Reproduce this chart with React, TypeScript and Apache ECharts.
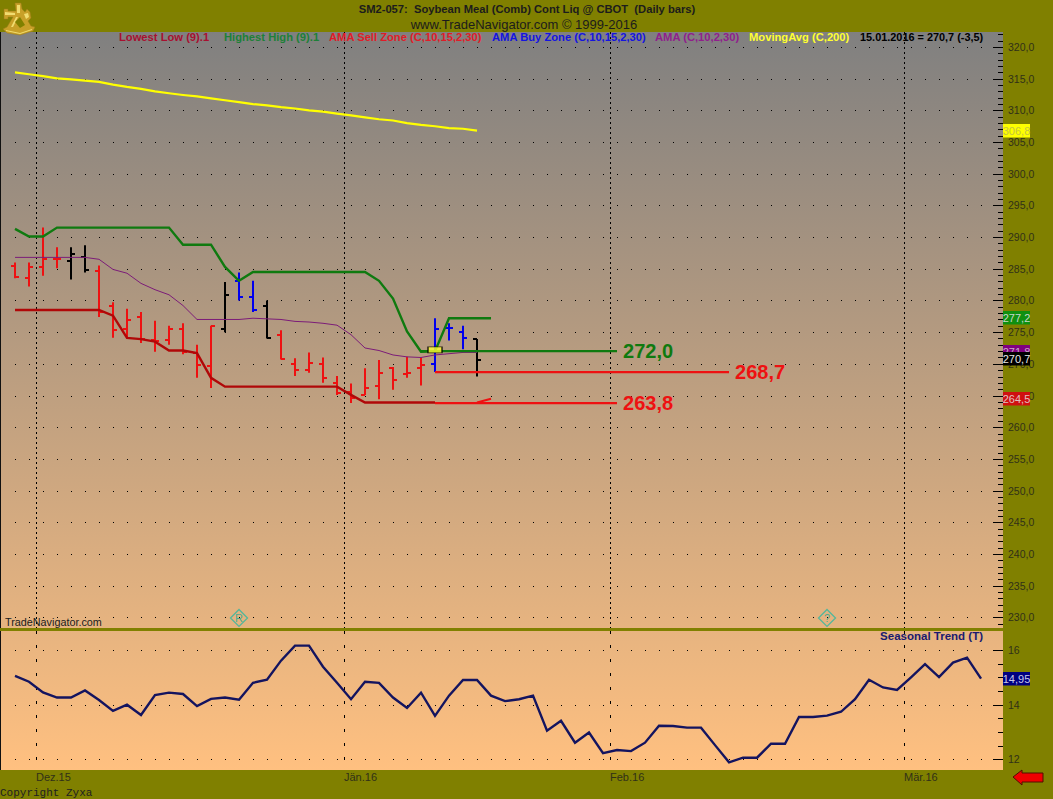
import React, { useEffect, useRef } from "react";
import * as echarts from "echarts";

// ---- data (x = bar number, 0 = first bar) ----
const dateLabels = ["Dez.15", "Jän.16", "Feb.16", "Mär.16"];
const dateBars = [1.5, 23.5, 42.5, 63.5];

const opens = [285.4, 283.6, 285.3, 286.6, 286.3, 286.9, 284.7, 279.1, 275.5, 277.4, 273.8, 273.8, 275.5, 271.7, 269.6, 275.5, 283.1, 280.5, 279.2, 274.6, 270.0, 269.0, 269.9, 267.0, 265.6, 265.1, 266.5, 269.3, 268.4, 269.3, 269.9, 275.6, 275.1, 273.9];
const highs = [286.0, 286.0, 291.5, 288.4, 288.4, 288.7, 285.5, 279.7, 278.7, 278.2, 276.8, 276.0, 276.4, 273.0, 276.0, 282.9, 284.4, 283.1, 280.0, 275.3, 270.9, 271.8, 271.0, 268.1, 266.9, 269.3, 270.6, 269.5, 271.1, 271.0, 277.2, 276.4, 276.0, 273.9];
const lows = [283.5, 282.2, 283.9, 285.1, 283.3, 284.4, 277.4, 274.1, 274.0, 273.3, 271.9, 273.0, 271.5, 267.8, 266.2, 275.0, 280.0, 278.2, 274.0, 270.7, 268.1, 268.6, 267.0, 265.1, 263.8, 265.1, 264.4, 265.9, 267.8, 266.6, 268.7, 273.7, 272.3, 268.0];
const closes = [283.7, 285.3, 286.5, 286.6, 287.4, 284.8, 278.2, 275.4, 276.9, 273.9, 273.6, 275.5, 271.8, 269.8, 275.9, 280.9, 280.6, 278.5, 274.1, 270.8, 269.0, 270.1, 267.7, 265.4, 264.6, 266.2, 268.6, 267.5, 268.6, 269.8, 275.5, 275.6, 274.1, 270.6];
const barKinds = "rrrrkkrrrrrrrrrkbbkrrrrrrrrrrrbbbk".split("").map((c, i) => (i === 30 ? "b" : c));

const lowestLow = [278.5, 278.5, 278.5, 278.5, 278.5, 278.5, 278.5, 277.6, 274.1, 273.9, 273.5, 272.1, 272.1, 271.7, 267.8, 266.4, 266.4, 266.4, 266.4, 266.4, 266.4, 266.4, 266.4, 266.4, 265.1, 263.9, 263.9, 263.9, 263.9, 263.9, 263.9];
const highestHigh = [291.3, 290.1, 290.1, 291.5, 291.5, 291.5, 291.5, 291.5, 291.5, 291.5, 291.5, 291.5, 288.8, 288.8, 288.8, 285.3, 283.1, 284.5, 284.5, 284.5, 284.5, 284.5, 284.5, 284.5, 284.5, 284.5, 283.1, 280.3, 275.1, 271.9, 272.0, 277.2, 277.2, 277.2, 277.2];
const amaPurple = [286.8, 286.8, 286.8, 286.8, 286.8, 286.8, 286.5, 284.9, 284.3, 282.7, 281.7, 280.9, 279.2, 277.0, 277.0, 277.0, 277.0, 277.2, 277.1, 277.0, 276.7, 276.6, 276.4, 276.1, 274.6, 272.5, 272.1, 271.4, 271.1, 271.0, 271.4, 271.6, 271.8, 271.8];
const movingAvg = [316.0, 315.7, 315.4, 315.06, 314.9, 314.7, 314.5, 314.06, 313.7, 313.4, 313.0, 312.7, 312.43, 312.2, 311.9, 311.6, 311.3, 311.0, 310.8, 310.5, 310.3, 310.0, 309.8, 309.5, 309.2, 308.9, 308.6, 308.4, 308.0, 307.7, 307.5, 307.2, 307.1, 306.8];
const sellZoneBars = [33, 34];
const sellZoneValues = [263.9, 264.5];

const levelValues = [272.0, 268.7, 263.8];
const levelStartBars = [29, 30, 30];
const levelEndBars = [43, 51, 43];
const levelColors = ["#0f7a0f", "#ee1111", "#ee1111"];

const seasonal = [15.05, 14.84, 14.45, 14.26, 14.26, 14.52, 14.17, 13.77, 14.0, 13.62, 14.35, 14.44, 14.39, 13.95, 14.21, 14.26, 14.18, 14.8, 14.91, 15.61, 16.16, 16.16, 15.39, 14.8, 14.2, 14.84, 14.8, 14.26, 13.88, 14.44, 13.59, 14.33, 14.9, 14.9, 14.33, 14.13, 14.2, 14.33, 13.05, 13.41, 12.61, 12.98, 12.23, 12.34, 12.3, 12.61, 13.23, 13.22, 13.16, 13.16, 12.52, 11.89, 12.06, 12.06, 12.57, 12.57, 13.55, 13.55, 13.6, 13.74, 14.2, 14.91, 14.63, 14.54, 15.0, 15.48, 15.01, 15.54, 15.72, 14.95];

const priceTicks = [230, 235, 240, 245, 250, 255, 260, 265, 270, 275, 280, 285, 290, 295, 300, 305, 310, 315, 320];
const seasonalTicks = [12, 14, 16];

const tagValues = [306.8, 277.2, 271.8, 270.7, 264.5];
const tagFills = ["#ffff00", "#109010", "#800080", "#000000", "#d01010"];
const tagInks = ["#c4c440", "#c8d8c8", "#c8a8c8", "#e8e8e8", "#e0c0c0"];
const seasonalTagValue = [14.95];

const markerBars = [16, 58];
const markerTexts = ["R", "?"];
const markerLevel = 229.9;

const legendTexts = ["Lowest Low (9).1", "Highest High (9).1", "AMA Sell Zone (C,10,15,2,30)", "AMA Buy Zone (C,10,15,2,30)", "AMA (C,10,2,30)", "MovingAvg (C,200)", "15.01.2016 = 270,7 (-3,5)"];
const legendX = [119, 224, 329, 492, 655, 749, 860];
const legendColors = ["#a81030", "#1d8038", "#e01c28", "#1414e0", "#90208c", "#ffff30", "#000000"];
const legendSizes = [11.2, 11.2, 11.2, 11.2, 11.2, 11.2, 10.9];

// ---- layout ----
const FONT = '"Liberation Sans", Arial, sans-serif';
const barColor: Record<string, string> = { r: "#ee1111", k: "#000000", b: "#0000ee" };
const xMin = -1;
const xMax = 70.57;
const dotBarCount = 70;

echarts.graphic.registerShape(
  "logoBody",
  echarts.graphic.extendPath(
    "M15 3 L21 3 L22 9 L25 12 L27 9 L30 12 L31 18 L28 21 L31 26 L35 27 L33 31 L20 35 L7 33 L3 29 L7 27 L13 17 L8 17 L8 19 L4 19 L4 9 L8 9 L8 11 L16 11 Z",
    {}
  )
);
echarts.graphic.registerShape(
  "logoLight",
  echarts.graphic.extendPath(
    "M17 5 L20 5 L20 13 L17 13 Z M5 12 L15 13 L15 15 L5 15 Z M24 14 L28 13 L29 17 L26 19 Z M6 30 L20 33 L32 29 L32 30 L20 34 L6 31 Z M16 17 L18 17 L13 27 L11 27 Z",
    {}
  )
);
echarts.graphic.registerShape(
  "logoDark",
  echarts.graphic.extendPath("M15 22 L20 17 L25 25 L20 28 Z", {})
);

function line(name: string, values: number[], color: string, width: number, start = 0) {
  return {
    name,
    type: "line",
    xAxisIndex: 0,
    yAxisIndex: 0,
    data: values.map((v, i) => [start + i, v]),
    showSymbol: false,
    symbol: "none",
    lineStyle: { color, width, cap: "butt", join: "miter" },
    z: 3,
  };
}

function fmt(v: number, digits: number) {
  return v.toFixed(digits).replace(".", ",");
}

function dotSeries(name: string, xIdx: number, yIdx: number, rows: number[]) {
  const data: number[][] = [];
  rows.forEach((r) => {
    for (let b = 0; b < dotBarCount; b++) data.push([b, r]);
  });
  return {
    name,
    type: "custom",
    xAxisIndex: xIdx,
    yAxisIndex: yIdx,
    silent: true,
    z: 1,
    encode: { x: 0, y: 1 },
    data,
    renderItem: (_: any, api: any) => {
      const p = api.coord([api.value(0), api.value(1)]);
      return { type: "rect", shape: { x: Math.round(p[0]), y: Math.round(p[1]), width: 1, height: 1 }, style: { fill: "#000000" } };
    },
  };
}

// ticks of the right-hand scale, placed by the y axis
function tickSeries(name: string, xIdx: number, yIdx: number, values: number[], length: number) {
  return {
    name,
    type: "custom",
    xAxisIndex: xIdx,
    yAxisIndex: yIdx,
    silent: true,
    clip: false,
    z: 1,
    encode: { x: 0, y: 1 },
    data: values.map((v) => [xMax, v]),
    renderItem: (_: any, api: any) => {
      const y = Math.round(api.coord([xMax, api.value(1)])[1]);
      return { type: "rect", shape: { x: 1003 - length, y, width: length, height: 1 }, style: { fill: "#000000" } };
    },
  };
}

function tagSeries(name: string, xIdx: number, yIdx: number, values: number[], fills: string[], inks: string[], digits: number) {
  return {
    name,
    type: "custom",
    xAxisIndex: xIdx,
    yAxisIndex: yIdx,
    clip: false,
    z: 8,
    silent: true,
    encode: { x: 0, y: 1 },
    data: values.map((v, i) => [0, v, i]),
    renderItem: (_: any, api: any) => {
      const y = Math.round(api.coord([0, api.value(1)])[1]);
      const i = api.value(2);
      return {
        type: "group",
        children: [
          { type: "rect", shape: { x: 1003, y: y - 7, width: 27, height: 13.5 }, style: { fill: fills[i] } },
          {
            type: "text",
            style: { x: 1016.5, y: y, text: fmt(api.value(1), digits), fill: inks[i], font: `11px ${FONT}`, textAlign: "center", textVerticalAlign: "middle" },
          },
        ],
      };
    },
  };
}

function txt(text: string, x: number, y: number, font: string, fill: string, textAlign = "left") {
  return { type: "text", z: 6, silent: true, style: { text, x, y, font, fill, textAlign, textVerticalAlign: "middle" } };
}

function buildOption() {
  const minorPrice = Array.from({ length: 94 }, (_, i) => 229 + i);
  const minorSeasonal = Array.from({ length: 9 }, (_, i) => 12 + i / 2);
  const xCommon = { type: "value", min: xMin, max: xMax, axisLine: { show: false } };

  return {
    animation: false,
    backgroundColor: "#808000",
    grid: [
      { left: 1, top: 32, width: 1002, height: 596, containLabel: false },
      { left: 1, top: 631, width: 1002, height: 139, containLabel: false },
    ],
    xAxis: [
      {
        ...xCommon,
        gridIndex: 0,
        axisLabel: { show: false },
        axisTick: { show: false, customValues: dateBars },
        splitLine: { show: true, lineStyle: { color: "#000000", width: 1, type: [2, 3] } },
      },
      {
        ...xCommon,
        gridIndex: 1,
        axisTick: { show: false, customValues: dateBars },
        axisLabel: {
          show: true,
          customValues: dateBars,
          formatter: (v: number) => dateLabels[dateBars.indexOf(v)] ?? "",
          align: "left",
          margin: 1,
          color: "#303018",
          fontFamily: FONT,
          fontSize: 11,
        },
        splitLine: { show: true, lineStyle: { color: "#000000", width: 1, type: [3, 11] } },
      },
    ],
    yAxis: [
      {
        type: "value",
        gridIndex: 0,
        position: "right",
        min: 228.31,
        max: 322.37,
        axisLine: { show: false },
        axisTick: { show: false },
        axisLabel: { show: true, customValues: priceTicks, margin: 5, color: "#303018", fontFamily: FONT, fontSize: 10.5, formatter: (v: number) => fmt(v, 1) },
        splitLine: { show: false },
      },
      {
        type: "value",
        gridIndex: 1,
        position: "right",
        min: 11.61,
        max: 16.695,
        axisLine: { show: false },
        axisTick: { show: false },
        axisLabel: { show: true, customValues: seasonalTicks, margin: 5, color: "#303018", fontFamily: FONT, fontSize: 10.5, formatter: (v: number) => String(v) },
        splitLine: { show: false },
      },
    ],
    series: [
      dotSeries("Price grid", 0, 0, priceTicks),
      dotSeries("Seasonal grid", 1, 1, seasonalTicks),
      tickSeries("Price minor ticks", 0, 0, minorPrice, 5),
      tickSeries("Seasonal minor ticks", 1, 1, minorSeasonal, 5),
      tickSeries("Price major ticks", 0, 0, priceTicks, 10),
      tickSeries("Seasonal major ticks", 1, 1, seasonalTicks, 10),
      {
        name: "Daily bars",
        type: "custom",
        xAxisIndex: 0,
        yAxisIndex: 0,
        z: 2,
        encode: { x: 0, y: [1, 2, 3, 4] },
        data: opens.map((o, i) => [i, o, highs[i], lows[i], closes[i]]),
        renderItem: (_: any, api: any) => {
          const i = api.value(0);
          const pt = (v: number) => api.coord([i, v]);
          const x = Math.round(pt(0)[0]);
          const stroke = barColor[barKinds[i]];
          const mk = (x1: number, y1: number, x2: number, y2: number) => ({
            type: "line",
            shape: { x1, y1, x2, y2 },
            style: { stroke, lineWidth: 2, fill: null },
          });
          const oy = Math.round(pt(api.value(1))[1]);
          const cy = Math.round(pt(api.value(4))[1]);
          return {
            type: "group",
            children: [
              mk(x, pt(api.value(2))[1], x, pt(api.value(3))[1]),
              mk(x - 4, oy, x, oy),
              mk(x, cy, x + 4, cy),
            ],
          };
        },
      },
      line("MovingAvg (C,200)", movingAvg, "#ffff00", 2.2),
      line("AMA (C,10,2,30)", amaPurple, "#7c1c78", 1),
      line("Lowest Low (9).1", lowestLow, "#b00808", 2.4),
      line("Highest High (9).1", highestHigh, "#0f7a0f", 2.4),
      {
        name: "AMA Sell Zone (C,10,15,2,30)",
        type: "line",
        xAxisIndex: 0,
        yAxisIndex: 0,
        symbol: "none",
        z: 3,
        data: sellZoneBars.map((b, i) => [b, sellZoneValues[i]]),
        lineStyle: { color: "#ee1111", width: 2 },
      },
      ...levelValues.map((v, i) => ({
        name: `Level ${fmt(v, 1)}`,
        type: "line",
        xAxisIndex: 0,
        yAxisIndex: 0,
        symbol: "none",
        z: 3,
        data: [
          [levelStartBars[i], v],
          [levelEndBars[i], v],
        ],
        lineStyle: { color: levelColors[i], width: 2.2 },
        endLabel: {
          show: true,
          formatter: fmt(v, 1),
          distance: 6,
          color: levelColors[i],
          fontFamily: FONT,
          fontWeight: "bold",
          fontSize: 20,
        },
      })),
      {
        name: "Signal",
        type: "scatter",
        xAxisIndex: 0,
        yAxisIndex: 0,
        symbol: "rect",
        symbolSize: [14, 6],
        z: 5,
        data: [[30, 272.2]],
        itemStyle: { color: "#ffff30", borderColor: "#000000", borderWidth: 1 },
      },
      {
        name: "Markers",
        type: "scatter",
        xAxisIndex: 0,
        yAxisIndex: 0,
        symbol: "diamond",
        symbolSize: 17,
        z: 5,
        data: markerBars.map((b, i) => ({ value: [b, markerLevel], name: markerTexts[i] })),
        itemStyle: { color: "rgba(0,0,0,0)", borderColor: "#30b8a0", borderWidth: 1.3 },
        label: { show: true, position: "inside", formatter: "{b}", color: "#20a890", fontFamily: FONT, fontSize: 11 },
      },
      {
        name: "Seasonal Trend (T)",
        type: "line",
        xAxisIndex: 1,
        yAxisIndex: 1,
        symbol: "none",
        z: 3,
        data: seasonal.map((v, i) => [i, v]),
        lineStyle: { color: "#14145f", width: 2.4, join: "miter" },
      },
      tagSeries("Price tags", 0, 0, tagValues, tagFills, tagInks, 1),
      tagSeries("Seasonal tag", 1, 1, seasonalTagValue, ["#000080"], ["#c8c8e8"], 2),
    ],
    graphic: {
      elements: [
        {
          type: "rect",
          z: -10,
          silent: true,
          shape: { x: 0, y: 32, width: 1003, height: 738 },
          style: {
            fill: new echarts.graphic.LinearGradient(0, 0, 0, 1, [
              { offset: 0, color: "#808080" },
              { offset: 1, color: "#ffc080" },
            ]),
          },
        },
        { type: "rect", z: 4, silent: true, shape: { x: 0, y: 628, width: 1003, height: 3 }, style: { fill: "#808000" } },
        { type: "rect", z: 1, silent: true, shape: { x: 0, y: 32, width: 1, height: 738 }, style: { fill: "#101010" } },
        { type: "logoBody", z: 6, silent: true, x: 0, y: 0, style: { fill: "#c8a028", stroke: "#9c7c18", lineWidth: 0.5 } },
        { type: "logoLight", z: 7, silent: true, x: 0, y: 0, style: { fill: "#f0dc70" } },
        { type: "logoDark", z: 7, silent: true, x: 0, y: 0, style: { fill: "#808000" } },
        txt("SM2-057:  Soybean Meal (Comb) Cont Liq @ CBOT  (Daily bars)", 527, 9, `bold 11.2px ${FONT}`, "#1c1c1c", "center"),
        txt("www.TradeNavigator.com © 1999-2016", 524, 24, `13px ${FONT}`, "#1c1c1c", "center"),
        ...legendTexts.map((t, i) => txt(t, legendX[i], 37, `bold ${legendSizes[i]}px ${FONT}`, legendColors[i])),
        txt("Seasonal Trend (T)", 983, 636, `bold 11.5px ${FONT}`, "#1a1a70", "right"),
        txt("TradeNavigator.com", 5, 622, `10.8px ${FONT}`, "#202020"),
        txt("Copyright Zyxa", 0, 793, `11px "Liberation Mono", monospace`, "#202020"),
        {
          type: "polygon",
          z: 6,
          silent: true,
          shape: { points: [[1013, 777], [1022, 770], [1022, 773], [1043, 773], [1043, 782], [1022, 782], [1022, 785]] },
          style: { fill: "#f00000", stroke: "#501000", lineWidth: 1 },
        },
      ],
    },
  };
}

export default function App() {
  const ref = useRef<HTMLDivElement>(null);
  useEffect(() => {
    document.body.style.margin = "0";
    const chart = echarts.init(ref.current!, null, { renderer: "svg" });
    chart.setOption(buildOption() as any);
    return () => chart.dispose();
  }, []);
  return <div ref={ref} style={{ position: "absolute", left: 0, top: 0, width: 1053, height: 799 }} />;
}
